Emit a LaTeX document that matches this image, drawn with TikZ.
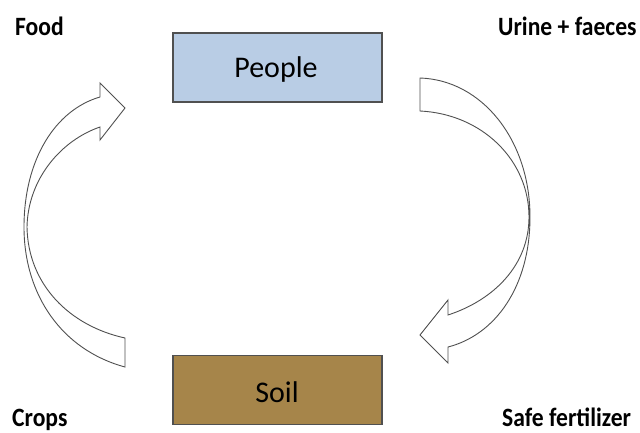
\documentclass[tikz,border=0pt]{standalone}
\usepackage{fontspec}
\setmainfont{Carlito}
\definecolor{peopleblue}{RGB}{185,205,229}
\definecolor{soilbrown}{RGB}{166,133,74}
\definecolor{edgegray}{RGB}{80,80,80}
\begin{document}
\begin{tikzpicture}[x=1pt,y=-1pt,
  box/.style={draw=edgegray,line width=1.3pt,minimum width=209pt,minimum height=69pt,inner sep=0pt},
  boxtext/.style={inner sep=0pt,font=\fontsize{30}{34}\selectfont},
  lbl/.style={inner sep=0pt,anchor=base west,font=\bfseries\fontsize{23.6}{27}\selectfont},
  curvedarrow/.style={draw=edgegray,line width=0.9pt,fill=white,line join=miter}]
\useasboundingbox[fill=white] (0,0) rectangle (640,433);
\node[box,fill=peopleblue] (people) at (277.5,67.5) {};
\node[boxtext,anchor=base] (peopletext) at (276,78) {People};
\node[box,fill=soilbrown] (soil) at (277.5,390) {};
\node[boxtext,anchor=base] (soiltext) at (277,402) {Soil};
\node[lbl] (food) at (15,36) {\scalebox{1}[1.12]{Food}};
\node[lbl] (urine) at (498,36) {\scalebox{1}[1.12]{Urine + faeces}};
\node[lbl] (crops) at (12,426) {\scalebox{1}[1.12]{Crops}};
\node[lbl] (safe) at (502,426) {\scalebox{1}[1.12]{Safe fertilizer}};
% left curved arrow (Soil -> People)
\draw[curvedarrow] (125,367) .. controls (62,350) and (24,295) .. (24,227)
  .. controls (24,160) and (55,110) .. (100,97)
  -- (100,83) -- (125,108) -- (100,140) -- (100,127)
  .. controls (62,140) and (28,178) .. (27,227)
  .. controls (28,285) and (70,326) .. (125,338) -- cycle;
% right curved arrow (People -> Soil)
\draw[curvedarrow] (420,78) .. controls (482,80) and (530,140) .. (530,217)
  .. controls (530,287) and (495,335) .. (448,347)
  -- (448,363) -- (420,335) -- (448,300) -- (448,315)
  .. controls (494,300) and (529,265) .. (529,217)
  .. controls (529,160) and (482,114) .. (420,111) -- cycle;
\end{tikzpicture}
\end{document}
